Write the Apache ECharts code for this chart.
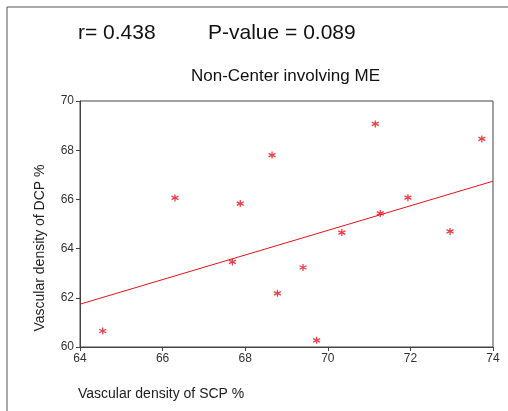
<!DOCTYPE html>
<html><head><meta charset="utf-8">
<script src="https://cdn.jsdelivr.net/npm/echarts@6/dist/echarts.min.js"></script>
<style>html,body{margin:0;padding:0;background:#fff}#c{width:508px;height:411px}</style>
</head><body><div id="c"></div>
<script>
const scpValues = [64.55, 66.30, 67.69, 67.88, 68.65, 68.78, 69.40, 69.73, 70.34, 71.15, 71.27, 71.94, 72.96, 73.73];
const dcpValues = [60.65, 66.06, 63.46, 65.83, 67.80, 62.18, 63.23, 60.27, 64.65, 69.07, 65.43, 66.07, 64.70, 68.46];
const fitX = [64, 74];
const fitY = [61.74, 66.74];
const xTicks = [64, 66, 68, 70, 72, 74];
const yTicks = [60, 62, 64, 66, 68, 70];

const chart = echarts.init(document.getElementById('c'), null, {renderer: 'canvas'});
const red = '#e5121c';
const axisCol = '#444';
const font = '"Liberation Sans", Arial, sans-serif';
chart.setOption({
  animation: false,
  grid: {left: 80, right: 15, top: 101, bottom: 64, show: true, borderColor: axisCol, borderWidth: 1, backgroundColor: '#fff'},
  xAxis: {
    type: 'value', min: xTicks[0], max: xTicks[xTicks.length - 1], interval: 2,
    axisLine: {show: true, lineStyle: {color: axisCol}},
    axisTick: {show: true, length: 4, lineStyle: {color: axisCol}},
    splitLine: {show: false},
    axisLabel: {color: '#333', fontFamily: font, fontSize: 12, margin: 6}
  },
  yAxis: {
    type: 'value', min: yTicks[0], max: yTicks[yTicks.length - 1], interval: 2,
    axisLine: {show: true, lineStyle: {color: axisCol}},
    axisTick: {show: true, length: 4, lineStyle: {color: axisCol}},
    splitLine: {show: false},
    axisLabel: {color: '#333', fontFamily: font, fontSize: 12, margin: 6}
  },
  series: [
    {
      type: 'scatter',
      data: scpValues.map((x, i) => [x, dcpValues[i]]),
      symbol: 'path://M5,0L5,10M0.7,2.5L9.3,7.5M0.7,7.5L9.3,2.5',
      symbolSize: 7,
      itemStyle: {color: 'none', borderColor: red, borderWidth: 1.3}
    },
    {
      type: 'line',
      data: fitX.map((x, i) => [x, fitY[i]]),
      showSymbol: false,
      lineStyle: {color: red, width: 1},
      silent: true
    }
  ],
  graphic: [
    {type: 'polyline', shape: {points: [[7, 411], [7, 7], [508, 7]]}, style: {stroke: '#555', lineWidth: 1, fill: null}},
    {type: 'text', left: 78, top: 23, style: {text: 'r= 0.438', font: '21px ' + font, fill: '#111'}},
    {type: 'text', left: 208, top: 23, style: {text: 'P-value = 0.089', font: '21px ' + font, fill: '#111'}},
    {type: 'text', left: 191, top: 68, style: {text: 'Non-Center involving ME', font: '17px ' + font, fill: '#111'}},
    {type: 'text', left: 78, top: 387, style: {text: 'Vascular density of SCP %', font: '14px ' + font, fill: '#222'}},
    {type: 'text', x: 40, y: 248, rotation: Math.PI / 2, style: {text: 'Vascular density of DCP %', font: '14px ' + font, fill: '#222', align: 'center', verticalAlign: 'middle'}}
  ]
});
</script></body></html>
